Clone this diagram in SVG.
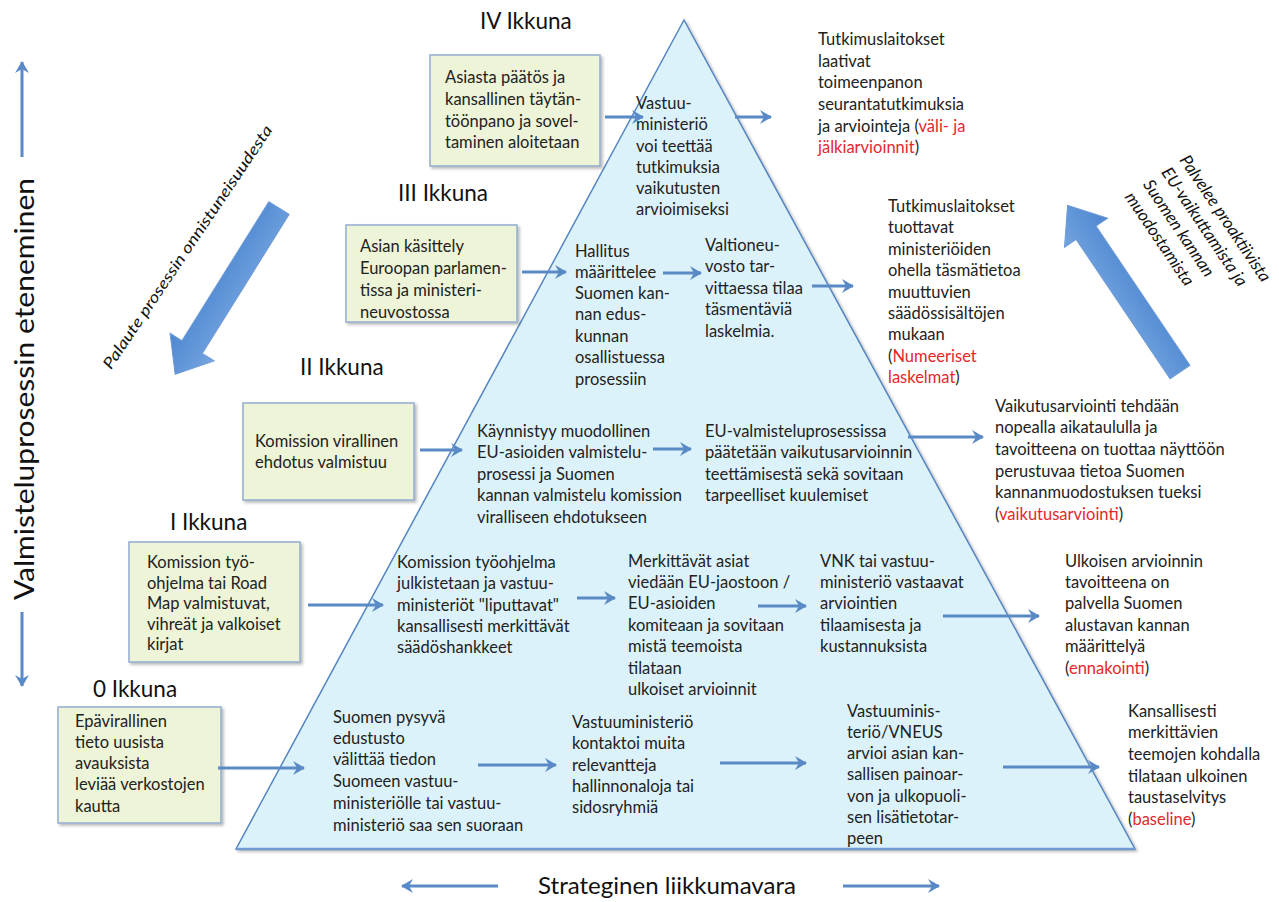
<svg xmlns="http://www.w3.org/2000/svg" width="1279" height="902" viewBox="0 0 1279 902">
  <defs>
    <style>
      .t { font-family: Lato, "Open Sans", "Liberation Sans", sans-serif; font-size: 16.5px; fill: #222; }
      .r { fill: #e3282d; }
      .lbl { font-family: Lato, "Open Sans", "Liberation Sans", sans-serif; font-size: 22.5px; fill: #111; }
      .axis { font-size: 27px; }
      .it { font-family: Lato, "Open Sans", "Liberation Sans", sans-serif; font-style: italic; font-size: 15.5px; fill: #111; }
      .it.big { font-size: 17px; }
      .box { fill: #edf4d7; stroke: #93acd0; stroke-width: 1.5; filter: url(#sh); }
      .con { stroke: #5a8ac6; stroke-width: 3; fill: none; marker-end: url(#ah); }
    </style>
    <filter id="sh" x="-10%" y="-10%" width="130%" height="130%">
      <feDropShadow dx="2" dy="2" stdDeviation="1.5" flood-color="#000" flood-opacity="0.28"/>
    </filter>
    <marker id="ah" markerUnits="userSpaceOnUse" markerWidth="16" markerHeight="16" viewBox="-12 -8 14 16" refX="0" refY="0" orient="auto">
      <path d="M1,0 L-11,-7 L-7,0 L-11,7 Z" fill="#5a8ac6"/>
    </marker>
    <linearGradient id="blk" x1="0" y1="-1" x2="0" y2="1" gradientUnits="objectBoundingBox">
      <stop offset="0" stop-color="#9cc3ef"/>
      <stop offset="1" stop-color="#4d86d0"/>
    </linearGradient>
  </defs>

  <rect width="1279" height="902" fill="#ffffff"/>

  <!-- pyramid -->
  <g id="pyramid">
    <polygon points="684,20 236,849 1135,849" fill="#dcf2fb" stroke="#5585c0" stroke-width="1.5" filter="url(#sh)"/>
    <line x1="236" y1="849" x2="1135" y2="849" stroke="#6f9bd0" stroke-width="2.5"/>
  </g>

  <!-- side axis: process progress -->
  <g id="axis-left">
    <line x1="22" y1="157" x2="22" y2="62" class="con"/>
    <line x1="22" y1="612" x2="22" y2="686" class="con"/>
    <text class="lbl axis" transform="translate(34,389) rotate(-90)" text-anchor="middle" textLength="422" lengthAdjust="spacingAndGlyphs">Valmisteluprosessin eteneminen</text>
  </g>

  <!-- feedback block arrow -->
  <g id="feedback">
    <path transform="translate(279,208) rotate(122)" d="M0,-12 L164,-12 L164,-26 L196,0 L164,26 L164,12 L0,12 Z" fill="url(#blk)" stroke="#6d9ad6" stroke-width="1"/>
    <text class="it" transform="translate(192,250) rotate(-56)" text-anchor="middle" textLength="290" lengthAdjust="spacingAndGlyphs">Palaute prosessin onnistuneisuudesta</text>
  </g>

  <!-- proactive block arrow -->
  <g id="proactive">
    <path transform="translate(1180,372) rotate(-124)" d="M0,-12 L168,-12 L168,-26 L201,0 L168,26 L168,12 L0,12 Z" fill="url(#blk)" stroke="#6d9ad6" stroke-width="1"/>
    <text class="it big" transform="translate(1179,160) rotate(56)">
      <tspan x="0" y="0">Palvelee proaktiivista</tspan>
      <tspan x="0" y="22">EU-vaikuttamista ja</tspan>
      <tspan x="0" y="44">Suomen kannan</tspan>
      <tspan x="0" y="66">muodostamista</tspan>
    </text>
  </g>

  <!-- window labels -->
  <g id="labels">
    <text class="lbl" x="480" y="29">IV Ikkuna</text>
    <text class="lbl" x="398" y="201">III Ikkuna</text>
    <text class="lbl" x="300" y="375">II Ikkuna</text>
    <text class="lbl" x="170" y="530">I Ikkuna</text>
    <text class="lbl" x="93" y="697">0 Ikkuna</text>
  </g>

  <!-- window boxes -->
  <g id="box-iv">
    <rect class="box" x="430" y="55" width="170" height="111"/>
    <text class="t"><tspan x="445" y="83">Asiasta päätös ja</tspan><tspan x="445" y="105">kansallinen täytän-</tspan><tspan x="445" y="127">töönpano ja sovel-</tspan><tspan x="445" y="148">taminen aloitetaan</tspan></text>
  </g>
  <g id="box-iii">
    <rect class="box" x="346" y="225" width="171" height="97"/>
    <text class="t"><tspan x="360" y="252">Asian käsittely</tspan><tspan x="360" y="274">Euroopan parlamen-</tspan><tspan x="360" y="296">tissa ja ministeri-</tspan><tspan x="360" y="318">neuvostossa</tspan></text>
  </g>
  <g id="box-ii">
    <rect class="box" x="243" y="403" width="171" height="97"/>
    <text class="t"><tspan x="255" y="447">Komission virallinen</tspan><tspan x="255" y="468">ehdotus valmistuu</tspan></text>
  </g>
  <g id="box-i">
    <rect class="box" x="129" y="542" width="171" height="120"/>
    <text class="t"><tspan x="147" y="568">Komission työ-</tspan><tspan x="147" y="589">ohjelma tai Road</tspan><tspan x="147" y="609">Map valmistuvat,</tspan><tspan x="147" y="630">vihreät ja valkoiset</tspan><tspan x="147" y="650">kirjat</tspan></text>
  </g>
  <g id="box-0">
    <rect class="box" x="58" y="707" width="163" height="116"/>
    <text class="t"><tspan x="75" y="727">Epävirallinen</tspan><tspan x="75" y="748">tieto uusista</tspan><tspan x="75" y="769">avauksista</tspan><tspan x="75" y="790">leviää verkostojen</tspan><tspan x="75" y="812">kautta</tspan></text>
  </g>

  <!-- steps inside the pyramid -->
  <g id="step-iv">
    <text class="t"><tspan x="636" y="109">Vastuu-</tspan><tspan x="636" y="130">ministeriö</tspan><tspan x="636" y="152">voi teettää</tspan><tspan x="636" y="173">tutkimuksia</tspan><tspan x="636" y="194">vaikutusten</tspan><tspan x="636" y="215">arvioimiseksi</tspan></text>
  </g>
  <g id="step-iii-a">
    <text class="t"><tspan x="575" y="257">Hallitus</tspan><tspan x="575" y="278">määrittelee</tspan><tspan x="575" y="299">Suomen kan-</tspan><tspan x="575" y="320">nan edus-</tspan><tspan x="575" y="342">kunnan</tspan><tspan x="575" y="363">osallistuessa</tspan><tspan x="575" y="385">prosessiin</tspan></text>
  </g>
  <g id="step-iii-b">
    <text class="t"><tspan x="705" y="251">Valtioneu-</tspan><tspan x="705" y="272">vosto tar-</tspan><tspan x="705" y="294">vittaessa tilaa</tspan><tspan x="705" y="315">täsmentäviä</tspan><tspan x="705" y="337">laskelmia.</tspan></text>
  </g>
  <g id="step-ii-a">
    <text class="t"><tspan x="477" y="437">Käynnistyy muodollinen</tspan><tspan x="477" y="458">EU-asioiden valmistelu-</tspan><tspan x="477" y="480">prosessi ja Suomen</tspan><tspan x="477" y="501">kannan valmistelu komission</tspan><tspan x="477" y="523">viralliseen ehdotukseen</tspan></text>
  </g>
  <g id="step-ii-b">
    <text class="t"><tspan x="705" y="437">EU-valmisteluprosessissa</tspan><tspan x="705" y="458">päätetään vaikutusarvioinnin</tspan><tspan x="705" y="480">teettämisestä sekä sovitaan</tspan><tspan x="705" y="501">tarpeelliset kuulemiset</tspan></text>
  </g>
  <g id="step-i-a">
    <text class="t"><tspan x="397" y="568">Komission työohjelma</tspan><tspan x="397" y="589">julkistetaan ja vastuu-</tspan><tspan x="397" y="611">ministeriöt "liputtavat"</tspan><tspan x="397" y="632">kansallisesti merkittävät</tspan><tspan x="397" y="653">säädöshankkeet</tspan></text>
  </g>
  <g id="step-i-b">
    <text class="t"><tspan x="628" y="567">Merkittävät asiat</tspan><tspan x="628" y="588">viedään EU-jaostoon /</tspan><tspan x="628" y="609">EU-asioiden</tspan><tspan x="628" y="631">komiteaan ja sovitaan</tspan><tspan x="628" y="652">mistä teemoista</tspan><tspan x="628" y="674">tilataan</tspan><tspan x="628" y="695">ulkoiset arvioinnit</tspan></text>
  </g>
  <g id="step-i-c">
    <text class="t"><tspan x="820" y="567">VNK tai vastuu-</tspan><tspan x="820" y="588">ministeriö vastaavat</tspan><tspan x="820" y="609">arviointien</tspan><tspan x="820" y="631">tilaamisesta ja</tspan><tspan x="820" y="652">kustannuksista</tspan></text>
  </g>
  <g id="step-0-a">
    <text class="t"><tspan x="333" y="723">Suomen pysyvä</tspan><tspan x="333" y="744">edustusto</tspan><tspan x="333" y="765">välittää tiedon</tspan><tspan x="333" y="787">Suomeen vastuu-</tspan><tspan x="333" y="809">ministeriölle tai vastuu-</tspan><tspan x="333" y="831">ministeriö saa sen suoraan</tspan></text>
  </g>
  <g id="step-0-b">
    <text class="t"><tspan x="572" y="728">Vastuuministeriö</tspan><tspan x="572" y="749">kontaktoi muita</tspan><tspan x="572" y="771">relevantteja</tspan><tspan x="572" y="792">hallinnonaloja tai</tspan><tspan x="572" y="813">sidosryhmiä</tspan></text>
  </g>
  <g id="step-0-c">
    <text class="t"><tspan x="847" y="717">Vastuuminis-</tspan><tspan x="847" y="738">teriö/VNEUS</tspan><tspan x="847" y="759">arvioi asian kan-</tspan><tspan x="847" y="780">sallisen painoar-</tspan><tspan x="847" y="802">von ja ulkopuoli-</tspan><tspan x="847" y="823">sen lisätietotar-</tspan><tspan x="847" y="844">peen</tspan></text>
  </g>

  <!-- outcomes on the right -->
  <g id="out-iv">
    <text class="t"><tspan x="818" y="45">Tutkimuslaitokset</tspan><tspan x="818" y="67">laativat</tspan><tspan x="818" y="88">toimeenpanon</tspan><tspan x="818" y="110">seurantatutkimuksia</tspan><tspan x="818" y="132">ja arviointeja (<tspan class="r">väli- ja</tspan></tspan><tspan x="818" y="153"><tspan class="r">jälkiarvioinnit</tspan>)</tspan></text>
  </g>
  <g id="out-iii">
    <text class="t"><tspan x="888" y="212">Tutkimuslaitokset</tspan><tspan x="888" y="233">tuottavat</tspan><tspan x="888" y="255">ministeriöiden</tspan><tspan x="888" y="276">ohella täsmätietoa</tspan><tspan x="888" y="298">muuttuvien</tspan><tspan x="888" y="319">säädössisältöjen</tspan><tspan x="888" y="340">mukaan</tspan><tspan x="888" y="362">(<tspan class="r">Numeeriset</tspan></tspan><tspan x="888" y="383"><tspan class="r">laskelmat</tspan>)</tspan></text>
  </g>
  <g id="out-ii">
    <text class="t"><tspan x="995" y="412">Vaikutusarviointi tehdään</tspan><tspan x="995" y="433">nopealla aikataululla ja</tspan><tspan x="995" y="455">tavoitteena on tuottaa näyttöön</tspan><tspan x="995" y="477">perustuvaa tietoa Suomen</tspan><tspan x="995" y="498">kannanmuodostuksen tueksi</tspan><tspan x="995" y="520">(<tspan class="r">vaikutusarviointi</tspan>)</tspan></text>
  </g>
  <g id="out-i">
    <text class="t"><tspan x="1065" y="567">Ulkoisen arvioinnin</tspan><tspan x="1065" y="588">tavoitteena on</tspan><tspan x="1065" y="609">palvella Suomen</tspan><tspan x="1065" y="631">alustavan kannan</tspan><tspan x="1065" y="652">määrittelyä</tspan><tspan x="1065" y="674">(<tspan class="r">ennakointi</tspan>)</tspan></text>
  </g>
  <g id="out-0">
    <text class="t"><tspan x="1128" y="717">Kansallisesti</tspan><tspan x="1128" y="738">merkittävien</tspan><tspan x="1128" y="760">teemojen kohdalla</tspan><tspan x="1128" y="782">tilataan ulkoinen</tspan><tspan x="1128" y="803">taustaselvitys</tspan><tspan x="1128" y="825">(<tspan class="r">baseline</tspan>)</tspan></text>
  </g>

  <!-- bottom axis -->
  <g id="axis-bottom">
    <line x1="498" y1="886" x2="402" y2="886" class="con"/>
    <line x1="843" y1="886" x2="939" y2="886" class="con"/>
    <text class="lbl" x="667" y="894" text-anchor="middle" textLength="258" lengthAdjust="spacingAndGlyphs">Strateginen liikkumavara</text>
  </g>

  <!-- connectors -->
  <g id="connectors">
    <line class="con" x1="605" y1="117" x2="643" y2="117"/>
    <line class="con" x1="735" y1="117" x2="771" y2="117"/>
    <line class="con" x1="522" y1="272" x2="566" y2="272"/>
    <line class="con" x1="663" y1="273" x2="701" y2="273"/>
    <line class="con" x1="812" y1="286" x2="853" y2="286"/>
    <line class="con" x1="420" y1="450" x2="462" y2="450"/>
    <line class="con" x1="653" y1="449" x2="691" y2="449"/>
    <line class="con" x1="908" y1="437" x2="983" y2="437"/>
    <line class="con" x1="308" y1="605" x2="383" y2="605"/>
    <line class="con" x1="577" y1="598" x2="615" y2="598"/>
    <line class="con" x1="758" y1="606" x2="806" y2="606"/>
    <line class="con" x1="943" y1="616" x2="1039" y2="616"/>
    <line class="con" x1="218" y1="768" x2="304" y2="768"/>
    <line class="con" x1="478" y1="765" x2="556" y2="765"/>
    <line class="con" x1="720" y1="763" x2="806" y2="763"/>
    <line class="con" x1="1003" y1="767" x2="1099" y2="767"/>
  </g>
</svg>
